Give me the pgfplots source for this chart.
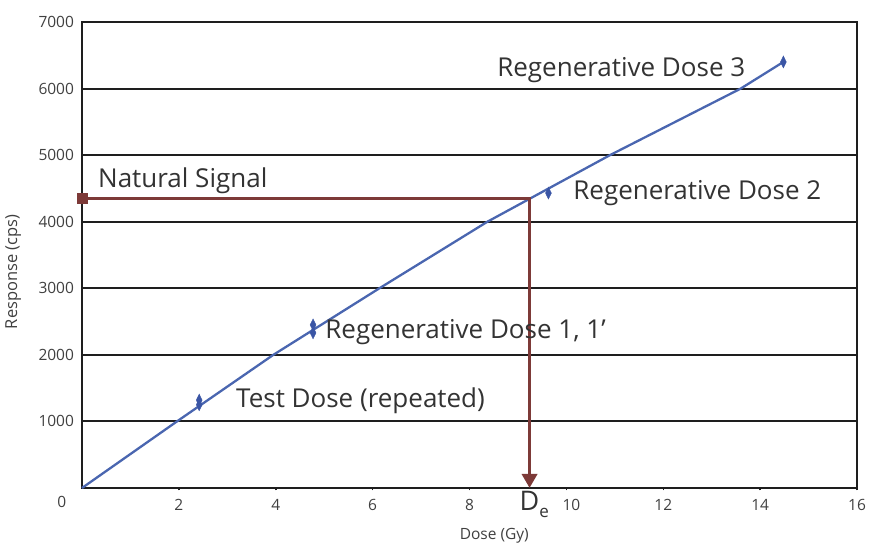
\documentclass[border=0pt]{standalone}
\usepackage{pgfplots}
\pgfplotsset{compat=1.18}
\usepackage{fontspec}
\setmainfont{Open Sans}
\usetikzlibrary{arrows.meta,calc}
\definecolor{lineblue}{HTML}{4A66B0}
\definecolor{markblue}{HTML}{3A55A5}
\definecolor{brownline}{HTML}{7D3A38}
\definecolor{gridk}{HTML}{1E1E1E}
\begin{document}
\begin{tikzpicture}
\begin{axis}[
  name=ax,
  scale only axis,
  width=775pt, height=466pt,
  xmin=0, xmax=16, ymin=0, ymax=7000,
  clip=false,
  /pgf/number format/assume math mode=true,
  xtick={2,4,6,8,10,12,14,16},
  xticklabels={2,4,6,8,\hspace{10pt}10,12,14,16},
  ytick={1000,2000,3000,4000,5000,6000,7000},
  yticklabels={1000,2000,3000,4000,5000,6000,7000},
  scaled y ticks=false,
  ymajorgrids,
  grid style={gridk, line width=2pt},
  axis line style={gridk, line width=2pt},
  x tick style={gridk, line width=1.5pt},
  xtick pos=bottom, ytick pos=left,
  tick align=outside,
  major tick length=2.5pt,
  y tick style={draw=none},
  tick label style={font=\fontsize{15.5}{15.5}\selectfont, text=black!75},
  xticklabel style={yshift=-5pt},
  yticklabel style={xshift=-2pt},
  xlabel={Dose (Gy)},
  ylabel={Response (cps)},
  xlabel style={font=\fontsize{15.5}{16}\selectfont, text=black!75, at={(axis description cs:0.532,-0.103)}, anchor=center},
  ylabel style={font=\fontsize{16.5}{17}\selectfont, text=black!75, at={(axis description cs:-0.074,0.464)}, anchor=south},
]
% fitted response curve
\addplot[lineblue, line width=2.3pt] coordinates {
  (0,0) (1.96,1000) (3.95,2000) (6.14,3000) (8.37,4000) (10.9,5000) (13.6,6000) (14.48,6400)
};
% measured points
\addplot[only marks, mark=diamond*, mark size=6pt, mark options={xscale=0.65, fill=markblue, draw=markblue}] coordinates {
  (2.42,1250) (2.42,1320) (4.77,2330) (4.77,2450) (9.63,4430) (14.48,6400)
};
% natural signal projection
\addplot[brownline, line width=3.5pt, -{Triangle[width=15pt,length=14pt]}] coordinates {
  (0,4350) (9.24,4350) (9.24,0)
};
\addplot[only marks, mark=square*, mark size=5pt, mark options={fill=brownline, draw=brownline}] coordinates {(0,4350)};
% annotations
\tikzset{ann/.style={anchor=base west, inner sep=0pt, font=\fontsize{26}{26}\selectfont, text=black!80}}
\node[ann] at (axis cs:0.33,4520) {Natural Signal};
\node[ann] at (axis cs:8.57,6186) {Regenerative Dose 3};
\node[ann] at (axis cs:10.14,4340) {Regenerative Dose 2};
\node[ann] at (axis cs:5.02,2252) {Regenerative Dose 1, 1’};
\node[ann] at (axis cs:3.18,1216) {Test Dose (repeated)};
\node[anchor=north, inner sep=0pt, font=\fontsize{27}{27}\selectfont, text=black!80] at (axis cs:9.24,-50) {D\rlap{\raisebox{-0.45ex}{\fontsize{17}{17}\selectfont e}}};
\node[font=\fontsize{15.5}{15.5}\selectfont, text=black!75] at (axis description cs:-0.026,-0.03) {0};
\end{axis}
\pgfresetboundingbox
\path ($(ax.south west)+(-82pt,-60pt)$) rectangle ($(ax.north east)+(16pt,22pt)$);
\end{tikzpicture}
\end{document}
